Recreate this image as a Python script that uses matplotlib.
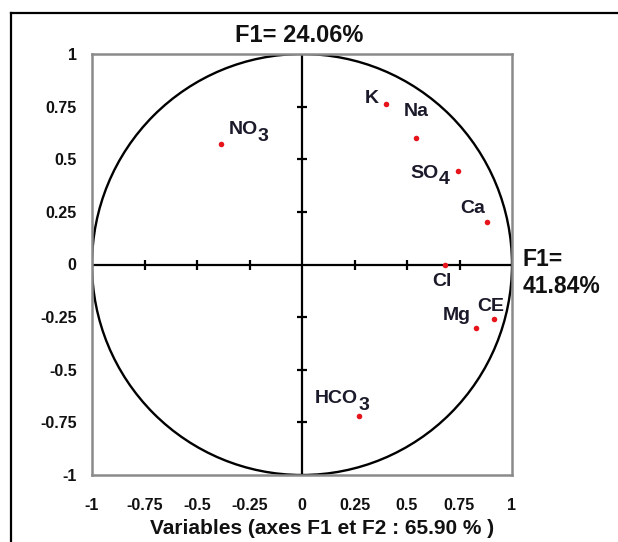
import matplotlib
matplotlib.use("Agg")
import matplotlib.pyplot as plt
from matplotlib.patches import Circle
from matplotlib.lines import Line2D

plt.rcParams['font.family'] = ['Liberation Sans', 'DejaVu Sans']
plt.rcParams['font.weight'] = 'bold'

# Correlation circle data: variable loadings on F1 (x) and F2 (y)
variables = ['NO', 'K', 'Na', 'SO', 'Ca', 'Cl', 'Mg', 'CE', 'HCO']
subscripts = ['3', '', '', '4', '', '', '', '', '3']
f1_load = [-0.386, 0.400, 0.543, 0.743, 0.881, 0.681, 0.829, 0.914, 0.273]
f2_load = [0.571, 0.762, 0.600, 0.443, 0.200, -0.004, -0.300, -0.257, -0.720]

tick_values = [-1, -0.75, -0.5, -0.25, 0, 0.25, 0.5, 0.75, 1]
tick_labels = ['-1', '-0.75', '-0.5', '-0.25', '0', '0.25', '0.5', '0.75', '1']

title_text = 'F1= 24.06%'
right_text = 'F1=\n41.84%'
xlabel_text = 'Variables (axes F1 et F2 : 65.90 % )'

LABEL_SIZE = 14

# label placement: (dx, dy) in points, ha, va
label_layout = {
    'NO': ((5.5, 10.5), 'left', 'center'),
    'K': ((-5, 4), 'right', 'center'),
    'Na': ((0, 19), 'center', 'center'),
    'SO': ((-6, -1.5), 'right', 'center'),
    'Ca': ((-1, 10), 'right', 'center'),
    'Cl': ((-2, -11.5), 'center', 'center'),
    'Mg': ((-4, 8.5), 'right', 'center'),
    'CE': ((-2, 8.5), 'center', 'center'),
    'HCO': ((-12.5, 12.5), 'center', 'center'),
}

W, H = 618, 542
fig = plt.figure(figsize=(W / 100, H / 100), dpi=100)
fig.patch.set_facecolor('white')

# outer frame (left and top edges visible)
fig.add_artist(Line2D([11 / W, 11 / W], [0, 1 - 13 / H], transform=fig.transFigure,
                      color='black', lw=1.6))
fig.add_artist(Line2D([11 / W, 1], [1 - 13 / H, 1 - 13 / H], transform=fig.transFigure,
                      color='black', lw=1.6))

left, right, top, bottom = 92, 512, 54, 475
ax = fig.add_axes([left / W, 1 - bottom / H, (right - left) / W, (bottom - top) / H])
ax.set_xlim(-1, 1)
ax.set_ylim(-1, 1)

for s in ax.spines.values():
    s.set_color('#8a8a8a')
    s.set_linewidth(1.8)

ax.set_xticks(tick_values)
ax.set_xticklabels(tick_labels)
ax.set_yticks(tick_values)
ax.set_yticklabels(tick_labels)
ax.tick_params(axis='both', length=0, labelsize=11.5, colors='#111111')
ax.tick_params(axis='x', pad=16.5)
ax.tick_params(axis='y', pad=11)
for lab in ax.get_xticklabels() + ax.get_yticklabels():
    lab.set_fontweight('bold')

# unit circle and central axes
ax.add_patch(Circle((0, 0), 1, fill=False, ec='black', lw=1.7, zorder=2))
ax.axhline(0, color='black', lw=1.6, zorder=2)
ax.axvline(0, color='black', lw=1.6, zorder=2)

inner_ticks = [t for t in tick_values if abs(t) not in (0, 1)]
ax.plot(inner_ticks, [0] * len(inner_ticks), ls='none', marker='|', ms=7,
        mew=1.6, color='black', zorder=2)
ax.plot([0] * len(inner_ticks), inner_ticks, ls='none', marker='_', ms=7,
        mew=1.6, color='black', zorder=2)

ax.scatter(f1_load, f2_load, s=16, color='#e8141b', zorder=3, linewidths=0)

for name, sub, x, y in zip(variables, subscripts, f1_load, f2_load):
    (dx, dy), ha, va = label_layout[name]
    if sub:
        # main text plus a lowered digit of the same size
        sub_w = 0.556 * LABEL_SIZE
        shift = {'left': 0, 'center': -sub_w / 2, 'right': -sub_w}[ha]
        t = ax.annotate(name, (x, y), xytext=(dx + shift, dy), textcoords='offset points',
                        ha=ha, va=va, fontsize=LABEL_SIZE, fontweight='bold',
                        color='#1a1a2a')
        ax.annotate(sub, xy=(1, 0.12), xycoords=t, ha='left', va='center',
                    fontsize=LABEL_SIZE, fontweight='bold', color='#1a1a2a')
    else:
        ax.annotate(name, (x, y), xytext=(dx, dy), textcoords='offset points',
                    ha=ha, va=va, fontsize=LABEL_SIZE, fontweight='bold',
                    color='#1a1a2a')

fig.text(299 / W, 1 - 36 / H, title_text, ha='center', va='center',
         fontsize=17, fontweight='bold', color='#111111')
fig.text(523 / W, 1 - 273 / H, right_text, ha='left', va='center',
         fontsize=16.5, fontweight='bold', color='#111111', linespacing=1.2)
fig.text(322 / W, 1 - 529 / H, xlabel_text, ha='center', va='center',
         fontsize=15, fontweight='bold', color='#111111')

fig.savefig('out.png', dpi=100, facecolor='white')
